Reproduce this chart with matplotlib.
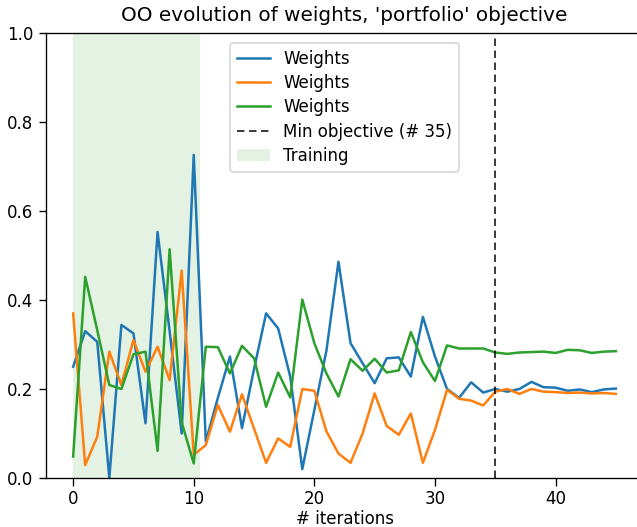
import numpy as np
import matplotlib
matplotlib.use("Agg")
import matplotlib.pyplot as plt

# weight of each asset at every optimisation iteration
iterations = list(range(46))
w_blue = [0.25, 0.33, 0.306, 0.0, 0.344, 0.325, 0.123, 0.553, 0.33, 0.10,
          0.726, 0.082, 0.18, 0.273, 0.112, 0.245, 0.37, 0.336, 0.228, 0.02,
          0.153, 0.286, 0.486, 0.303, 0.258, 0.213, 0.269, 0.271, 0.228, 0.362,
          0.273, 0.2, 0.18, 0.215, 0.192, 0.2, 0.194, 0.2, 0.216, 0.204,
          0.203, 0.196, 0.199, 0.193, 0.199, 0.201]
w_orange = [0.37, 0.029, 0.093, 0.284, 0.209, 0.31, 0.239, 0.295, 0.22, 0.466,
            0.052, 0.074, 0.164, 0.104, 0.188, 0.111, 0.034, 0.089, 0.07, 0.2,
            0.196, 0.105, 0.055, 0.034, 0.1, 0.19, 0.117, 0.097, 0.145, 0.034,
            0.108, 0.198, 0.178, 0.174, 0.163, 0.194, 0.2, 0.189, 0.2, 0.194,
            0.193, 0.191, 0.192, 0.19, 0.191, 0.189]
w_green = [0.048, 0.452, 0.332, 0.209, 0.2, 0.278, 0.284, 0.061, 0.514, 0.125,
           0.033, 0.295, 0.294, 0.235, 0.297, 0.269, 0.16, 0.237, 0.181, 0.401,
           0.303, 0.235, 0.183, 0.267, 0.241, 0.268, 0.237, 0.242, 0.328, 0.26,
           0.218, 0.298, 0.291, 0.291, 0.291, 0.282, 0.279, 0.282, 0.283, 0.284,
           0.281, 0.288, 0.287, 0.281, 0.284, 0.285]
min_iter = 35
train_end = 10.5

fig = plt.figure(figsize=(637 / 120, 527 / 120), dpi=120)
ax = fig.add_axes([46 / 637, 49 / 527, 597 / 637, 445 / 527])

ax.plot(iterations, w_blue, label="Weights")
ax.plot(iterations, w_orange, label="Weights")
ax.plot(iterations, w_green, label="Weights")
ax.axvline(min_iter, color="k", ls="--", lw=0.9, dashes=(5, 3),
           label="Min objective (# %d)" % min_iter)
ax.axvspan(0, train_end, color="C2", alpha=0.13, lw=0, label="Training")

ax.set_ylim(0, 1)
ax.set_xticks([0, 10, 20, 30, 40])
ax.tick_params(length=4.5, pad=3)
ax.set_xlabel("# iterations", labelpad=1)
ax.set_title("OO evolution of weights, 'portfolio' objective", pad=7)
ax.legend(loc="upper center", labelspacing=0.38, borderaxespad=0.6)

fig.savefig("out.png", dpi=120)
